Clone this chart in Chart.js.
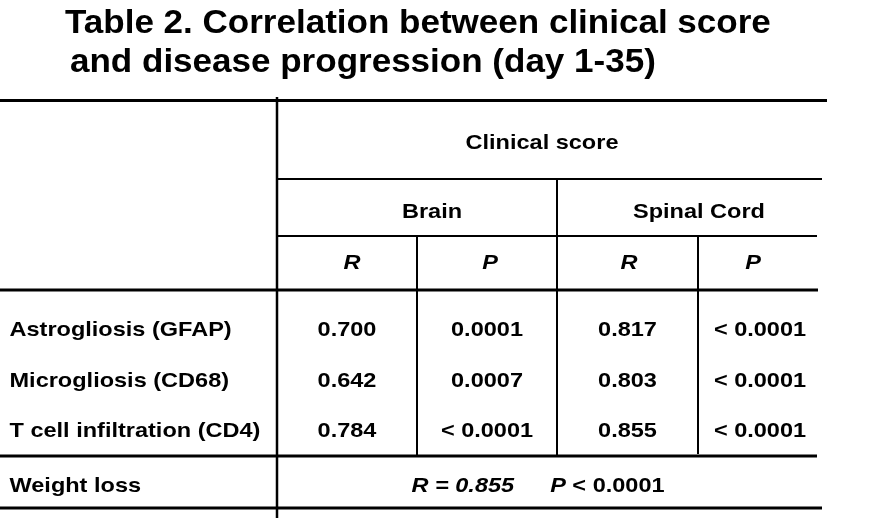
<!DOCTYPE html>
<html>
<head>
<meta charset="utf-8">
<script src="https://cdn.jsdelivr.net/npm/chart.js@4.4.1/dist/chart.umd.min.js"></script>
<style>
  html, body { margin: 0; padding: 0; background: #ffffff; }
  #wrap { width: 882px; height: 520px; position: relative; }
</style>
</head>
<body>
<div id="wrap"><canvas id="tableChart"></canvas></div>
<script>
// ---- table content ----
const titleLines = ['Table 2. Correlation between clinical score', 'and disease progression (day 1-35)'];
const groupHeader = 'Clinical score';
const tissues = ['Brain', 'Spinal Cord'];
const statLabels = ['R', 'P', 'R', 'P'];
const measures = ['Astrogliosis (GFAP)', 'Microgliosis (CD68)', 'T cell infiltration (CD4)'];
const brainR = [0.700, 0.642, 0.784];
const brainP = ['0.0001', '0.0007', '< 0.0001'];
const spinalR = [0.817, 0.803, 0.855];
const spinalP = ['< 0.0001', '< 0.0001', '< 0.0001'];
const weightLabel = 'Weight loss';
const weightR = 0.855;
const weightP = '< 0.0001';

// ---- layout (scale units, 1 unit ~ 1px) ----
const colEdges = [0, 277, 417, 557, 698, 822];
const colMid = i => (colEdges[i] + colEdges[i + 1]) / 2;
const headBase = { title: [33, 72], group: 149, tissue: 218, stat: 269 };
const headX = { group: 542, tissue: [432, 699], stat: [352, 490, 629, 753] };
const rowBase = [335.5, 386.5, 436.5];
const weightBase = 492;
const FONT = '"Liberation Sans", Arial, Helvetica, sans-serif';

// rules of the table: [x1, y1, x2, y2, width]
const rules = [
    [0, 100.5, 827, 100.5, 3],
    [277, 97, 277, 518, 2.5],
    [277, 179, 822, 179, 2],
    [277, 236, 817, 236, 2],
    [557, 179, 557, 456, 2],
    [417, 236, 417, 456, 2],
    [698, 236, 698, 454, 2],
    [0, 290, 818, 290, 3],
    [0, 456, 817, 456, 3],
    [0, 508, 822, 508, 3]
];

// text cells: point position + text props
const cells = [];
const addCell = (x, y, text, opt) => cells.push(Object.assign({ x, y, text, align: 'center', italic: false, size: 21, sx: 1.12 }, opt || {}));

addCell(65, headBase.title[0], titleLines[0], { align: 'left', size: 34, sx: 1.03 });
addCell(70, headBase.title[1], titleLines[1], { align: 'left', size: 34, sx: 1.03 });
addCell(headX.group, headBase.group, groupHeader);
tissues.forEach((t, i) => addCell(headX.tissue[i], headBase.tissue, t));
statLabels.forEach((s, i) => addCell(headX.stat[i], headBase.stat, s, { italic: true }));

measures.forEach((m, r) => {
    addCell(9.5, rowBase[r], m, { align: 'left' });
    addCell(colMid(1), rowBase[r], brainR[r].toFixed(3));
    addCell(colMid(2), rowBase[r], brainP[r]);
    addCell(colMid(3), rowBase[r], spinalR[r].toFixed(3));
    addCell(colMid(4), rowBase[r], spinalP[r]);
});

addCell(9.5, weightBase, weightLabel, { align: 'left' });
// weight loss summary spans all data columns, drawn as runs
addCell(411.5, weightBase, '', {
    align: 'left',
    runs: [
        { t: 'R = ' + weightR.toFixed(3), italic: true },
        { gap: 36 },
        { t: 'P', italic: true },
        { t: ' ' + weightP }
    ]
});

const ruleSets = rules.map(r => ({
    type: 'scatter',
    data: [{ x: r[0], y: r[1] }, { x: r[2], y: r[3] }],
    showLine: true,
    borderColor: '#000000',
    borderWidth: r[4],
    borderCapStyle: 'butt',
    pointRadius: 0,
    pointHoverRadius: 0,
    clip: false
}));

const textPlugin = {
    id: 'cellText',
    afterDatasetsDraw(chart) {
        const ctx = chart.ctx;
        chart.data.datasets.forEach((ds, di) => {
            if (!ds.cellInfo) return;
            const meta = chart.getDatasetMeta(di);
            meta.data.forEach((pt, i) => {
                const c = ds.cellInfo[i];
                ctx.save();
                ctx.fillStyle = '#000000';
                ctx.textBaseline = 'alphabetic';
                ctx.translate(pt.x, pt.y);
                ctx.scale(c.sx, 1);
                if (c.runs) {
                    ctx.textAlign = 'left';
                    let cx = 0;
                    c.runs.forEach(run => {
                        if (run.gap) { cx += run.gap / c.sx; return; }
                        ctx.font = (run.italic ? 'italic ' : '') + 'bold ' + c.size + 'px ' + FONT;
                        ctx.fillText(run.t, cx, 0);
                        cx += ctx.measureText(run.t).width;
                    });
                } else {
                    ctx.textAlign = c.align;
                    ctx.font = (c.italic ? 'italic ' : '') + 'bold ' + c.size + 'px ' + FONT;
                    ctx.fillText(c.text, 0, 0);
                }
                ctx.restore();
            });
        });
    }
};

new Chart(document.getElementById('tableChart'), {
    type: 'scatter',
    data: {
        datasets: ruleSets.concat([{
            data: cells.map(c => ({ x: c.x, y: c.y })),
            cellInfo: cells,
            pointRadius: 0,
            pointHoverRadius: 0,
            showLine: false,
            clip: false
        }])
    },
    options: {
        responsive: true,
        maintainAspectRatio: false,
        animation: false,
        events: [],
        layout: { padding: 0 },
        scales: {
            x: { type: 'linear', min: 0, max: 882, display: false },
            y: { type: 'linear', min: 0, max: 520, reverse: true, display: false }
        },
        plugins: {
            legend: { display: false },
            tooltip: { enabled: false },
            title: { display: false }
        }
    },
    plugins: [textPlugin]
});
</script>
</body>
</html>
